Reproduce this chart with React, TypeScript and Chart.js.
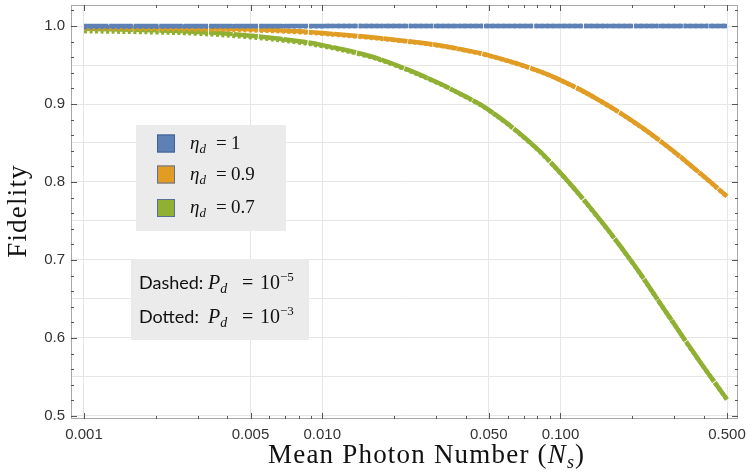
import React, { useEffect, useRef } from 'react';
import { Chart, registerables } from 'chart.js';

Chart.register(...registerables);

// mean photon number N_s (log axis)
const photonNumbers = [0.001, 0.002, 0.003, 0.005, 0.008, 0.01, 0.015, 0.02, 0.03, 0.04, 0.05, 0.075, 0.1, 0.14, 0.2, 0.27, 0.37, 0.5];

// fidelity, dashed = P_d 1e-5, dotted = P_d 1e-3
const eta1Dashed = [1, 1, 1, 1, 1, 1, 1, 1, 1, 1, 1, 1, 1, 1, 1, 1, 1, 1];
const eta1Dotted = [0.9985, 0.9992, 0.9995, 0.9997, 0.9998, 0.9999, 1, 1, 1, 1, 1, 1, 1, 1, 1, 1, 1, 1];
const eta09Dashed = [0.9992, 0.9984, 0.9976, 0.996, 0.9932, 0.991, 0.9865, 0.9825, 0.976, 0.969, 0.9623, 0.9461, 0.9307, 0.9078, 0.8784, 0.8497, 0.8158, 0.7815];
const eta09Dotted = [0.997, 0.9964, 0.9959, 0.9946, 0.9922, 0.9902, 0.9858, 0.982, 0.9755, 0.9686, 0.962, 0.9458, 0.9304, 0.9075, 0.8781, 0.8494, 0.8155, 0.7812];
const eta07Dashed = [0.9965, 0.9945, 0.9925, 0.9877, 0.9805, 0.9755, 0.9635, 0.951, 0.9285, 0.9095, 0.8925, 0.85, 0.8115, 0.759, 0.697, 0.6385, 0.577, 0.521];
const eta07Dotted = [0.9935, 0.992, 0.9903, 0.9857, 0.979, 0.9742, 0.9625, 0.9502, 0.928, 0.909, 0.892, 0.8496, 0.8111, 0.7587, 0.6967, 0.6382, 0.5768, 0.5208];

// ticks
const xLabelTicks = [0.001, 0.005, 0.01, 0.05, 0.1, 0.5];
const xMinorTicks = [0.002, 0.003, 0.004, 0.006, 0.007, 0.008, 0.009, 0.02, 0.03, 0.04, 0.06, 0.07, 0.08, 0.09, 0.2, 0.3, 0.4];
const yLabelTicks = [0.5, 0.6, 0.7, 0.8, 0.9, 1.0];
const yMinorTicks = [0.52, 0.54, 0.56, 0.58, 0.62, 0.64, 0.66, 0.68, 0.72, 0.74, 0.76, 0.78, 0.82, 0.84, 0.86, 0.88, 0.92, 0.94, 0.96, 0.98, 1.02];
const yGridLines = [0.5, 0.55, 0.6, 0.65, 0.7, 0.75, 0.8, 0.85, 0.9, 0.95, 1.0];

const BLUE = '#5E81B5';
const ORANGE = '#E19C24';
const GREEN = '#8FB032';

const legendItems = [
  { value: '1', color: BLUE, edge: '#3f5f92' },
  { value: '0.9', color: ORANGE, edge: '#5f739a' },
  { value: '0.7', color: GREEN, edge: '#5a6f95' },
];

const SERIF = '"Liberation Serif", serif';
const SANS = '"Liberation Sans", Arial, sans-serif';

type Run = { text: string; font: string; x?: number; dy?: number };

function drawRuns(ctx: CanvasRenderingContext2D, x: number, y: number, runs: Run[]) {
  let cx = x;
  for (const r of runs) {
    ctx.font = r.font;
    if (r.x !== undefined) cx = r.x;
    ctx.fillText(r.text, cx, y + (r.dy ?? 0));
    cx += ctx.measureText(r.text).width;
  }
}

const framePlugin = {
  id: 'mmaFrame',
  afterDraw(chart: any) {
    const { ctx, chartArea: a, scales } = chart;
    const xs = scales.x;
    const ys = scales.y;
    ctx.save();

    // frame
    ctx.strokeStyle = '#a8a8a8';
    ctx.lineWidth = 1;
    ctx.strokeRect(a.left + 0.5, a.top + 0.5, a.right - a.left - 1, a.bottom - a.top - 1);

    // ticks
    ctx.strokeStyle = '#555';
    const xTick = (v: number, len: number) => {
      const px = Math.round(xs.getPixelForValue(v)) + 0.5;
      ctx.beginPath();
      ctx.moveTo(px, a.bottom);
      ctx.lineTo(px, a.bottom - len);
      ctx.moveTo(px, a.top);
      ctx.lineTo(px, a.top + len);
      ctx.stroke();
    };
    const yTick = (v: number, len: number) => {
      const py = Math.round(ys.getPixelForValue(v)) + 0.5;
      ctx.beginPath();
      ctx.moveTo(a.left, py);
      ctx.lineTo(a.left + len, py);
      ctx.moveTo(a.right, py);
      ctx.lineTo(a.right - len, py);
      ctx.stroke();
    };
    xLabelTicks.forEach((v) => xTick(v, 6));
    xMinorTicks.forEach((v) => xTick(v, 3));
    yLabelTicks.forEach((v) => yTick(v, 6));
    yMinorTicks.forEach((v) => yTick(v, 3));

    // tick labels
    ctx.fillStyle = '#333';
    ctx.font = `15px ${SANS}`;
    ctx.textAlign = 'center';
    ctx.textBaseline = 'alphabetic';
    xLabelTicks.forEach((v) => {
      ctx.fillText(v.toFixed(3), xs.getPixelForValue(v), 439);
    });
    ctx.textAlign = 'right';
    ctx.textBaseline = 'middle';
    yLabelTicks.forEach((v) => {
      ctx.fillText(v.toFixed(1), 65, ys.getPixelForValue(v));
    });

    // axis titles
    ctx.fillStyle = '#111';
    ctx.textAlign = 'left';
    ctx.textBaseline = 'alphabetic';
    ctx.letterSpacing = '1.2px';
    drawRuns(ctx, 268, 463, [
      { text: 'Mean Photon Number (', font: `27px ${SERIF}` },
      { text: 'N', font: `italic 27px ${SERIF}` },
      { text: 's', font: `italic 18px ${SERIF}`, dy: 5 },
      { text: ')', font: `27px ${SERIF}` },
    ]);
    ctx.save();
    ctx.translate(26, 211);
    ctx.rotate(-Math.PI / 2);
    ctx.textAlign = 'center';
    ctx.font = `27px ${SERIF}`;
    ctx.fillText('Fidelity', 0, 0);
    ctx.restore();
    ctx.letterSpacing = '0px';

    // legend box
    ctx.fillStyle = '#ebebeb';
    ctx.fillRect(136, 125, 150, 106);
    const rowY = [143.5, 174.5, 208];
    legendItems.forEach((item, i) => {
      ctx.fillStyle = item.color;
      ctx.fillRect(157, rowY[i] - 9, 18, 18);
      ctx.strokeStyle = item.edge;
      ctx.lineWidth = 1;
      ctx.strokeRect(157.5, rowY[i] - 8.5, 17, 17);
      ctx.fillStyle = '#111';
      ctx.textAlign = 'left';
      ctx.textBaseline = 'alphabetic';
      drawRuns(ctx, 190, rowY[i] + 5, [
        { text: 'η', font: `italic 19px ${SERIF}` },
        { text: 'd', font: `italic 13px ${SERIF}`, dy: 4 },
        { text: '=', font: `19px ${SERIF}`, x: 216 },
        { text: item.value, font: `19px ${SERIF}`, x: 231 },
      ]);
    });

    // P_d note box
    ctx.fillStyle = '#ebebeb';
    ctx.fillRect(131, 259, 178, 81);
    ctx.fillStyle = '#111';
    const noteRows = [
      { label: 'Dashed:', exp: '−5', y: 289 },
      { label: 'Dotted:', exp: '−3', y: 323 },
    ];
    noteRows.forEach((r) => {
      drawRuns(ctx, 139, r.y, [
        { text: r.label, font: `18px Lato, ${SANS}` },
        { text: 'P', font: `italic 20px ${SERIF}`, x: 208 },
        { text: 'd', font: `italic 14px ${SERIF}`, dy: 4 },
        { text: '=', font: `20px ${SERIF}`, x: 242 },
        { text: '10', font: `20px ${SERIF}`, x: 260 },
        { text: r.exp, font: `13px ${SERIF}`, dy: -8 },
      ]);
    });

    ctx.restore();
  },
};

function series(values: number[]) {
  return photonNumbers.map((x, i) => ({ x, y: values[i] }));
}

const App: React.FC = () => {
  const canvasRef = useRef<HTMLCanvasElement | null>(null);
  const chartRef = useRef<Chart | null>(null);

  useEffect(() => {
    if (!canvasRef.current) return;
    const ctx = canvasRef.current.getContext('2d');
    if (!ctx) return;
    if (chartRef.current) chartRef.current.destroy();

    const line = (label: string, values: number[], color: string, dash: number[]) => ({
      label,
      data: series(values),
      borderColor: color,
      backgroundColor: color,
      borderWidth: 4.5,
      borderDash: dash,
      pointRadius: 0,
      fill: false,
      tension: 0.4,
    });

    const DASHED = [24, 1];
    const DOTTED = [3, 2.5];

    chartRef.current = new Chart(ctx, {
      type: 'line',
      data: {
        datasets: [
          line('η=1 dashed', eta1Dashed, BLUE, DASHED),
          line('η=1 dotted', eta1Dotted, BLUE, DOTTED),
          line('η=0.9 dashed', eta09Dashed, ORANGE, DASHED),
          line('η=0.9 dotted', eta09Dotted, ORANGE, DOTTED),
          line('η=0.7 dashed', eta07Dashed, GREEN, DASHED),
          line('η=0.7 dotted', eta07Dotted, GREEN, DOTTED),
        ],
      },
      options: {
        responsive: false,
        animation: false,
        layout: { padding: { top: 5, right: 9, left: 0, bottom: 0 } },
        plugins: {
          legend: { display: false },
          tooltip: { enabled: false },
        },
        scales: {
          x: {
            type: 'logarithmic',
            min: 0.000882,
            max: 0.556,
            afterBuildTicks: (s: any) => {
              s.ticks = xLabelTicks.map((v) => ({ value: v }));
            },
            afterFit: (s: any) => {
              s.height = 56;
            },
            ticks: { display: false },
            grid: { color: '#e6e6e6', drawTicks: false },
            border: { display: false },
          },
          y: {
            type: 'linear',
            min: 0.496,
            max: 1.027,
            afterBuildTicks: (s: any) => {
              s.ticks = yGridLines.map((v) => ({ value: v }));
            },
            afterFit: (s: any) => {
              s.width = 71;
            },
            ticks: { display: false },
            grid: { color: '#e6e6e6', drawTicks: false },
            border: { display: false },
          },
        },
      },
      plugins: [framePlugin],
    });

    return () => {
      if (chartRef.current) {
        chartRef.current.destroy();
        chartRef.current = null;
      }
    };
  }, []);

  return (
    <div style={{ position: 'absolute', left: 0, top: 0, width: 747, height: 475, background: '#fff' }}>
      <canvas ref={canvasRef} width={747} height={475}></canvas>
    </div>
  );
};

export default App;
